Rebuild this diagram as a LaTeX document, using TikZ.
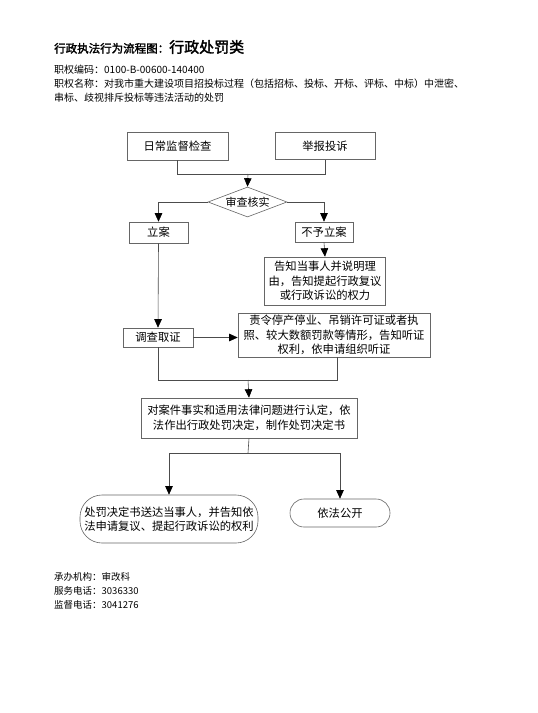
\documentclass[tikz,border=0pt]{standalone}
\usepackage{fontspec}
\setmainfont{Noto Sans CJK SC}[AutoFakeBold=2]
\usetikzlibrary{shapes.geometric}
\usetikzlibrary{arrows.meta,calc}
\begin{document}
\begin{tikzpicture}[x=1pt,y=-1pt,
  box/.style={draw=black!60, line width=0.6pt, align=center, inner sep=1pt,
    font=\fontsize{11.3}{14.5}\selectfont},
  roundbox/.style={box, rounded corners=#1},
  check/.style={draw=black!60, line width=0.6pt, diamond, aspect=2.6, inner sep=0pt,
    minimum width=79pt, minimum height=30pt, font=\fontsize{11}{14}\selectfont},
  link/.style={draw=black!70, line width=0.6pt},
  flow/.style={link, -{Triangle[width=7.5pt,length=8.5pt,color=black]}},
  info/.style={anchor=west, inner sep=0pt, font=\fontsize{10}{14}\selectfont}]
  \useasboundingbox[fill=white] (0,0) rectangle (538,713);

  % Draw the heading lines
  \node[info] (title) at (54,47) {\bfseries\fontsize{11.5}{14}\selectfont 行政执法行为流程图：\fontsize{15}{18}\selectfont 行政处罚类};
  \node[info] (code) at (54,70) {职权编码：0100-B-00600-140400};
  \node[info] (name1) at (54,84) {职权名称：对我市重大建设项目招投标过程（包括招标、投标、开标、评标、中标）中泄密、};
  \node[info] (name2) at (54,98) {串标、歧视排斥投标等违法活动的处罚};

  % Draw the boxes of the flow
  \node[box, minimum width=101pt, minimum height=28pt] (jiancha) at (177.5,146) {日常监督检查};
  \node[box, minimum width=100pt, minimum height=27pt] (jubao) at (325,146) {举报投诉};
  \node[check] (shencha) at (247.5,202) {审查核实};
  \node[box, minimum width=59pt, minimum height=21pt] (lian) at (158.5,232.5) {立案};
  \node[box, minimum width=58pt, minimum height=20pt] (buyu) at (324,232) {不予立案};
  \node[box, minimum width=121pt, minimum height=48pt] (gaozhi) at (325,281)
    {告知当事人并说明理\\由，告知提起行政复议\\或行政诉讼的权力};
  \node[box, minimum width=70pt, minimum height=19pt] (diaocha) at (158,337.5) {调查取证};
  \node[box, minimum width=192pt, minimum height=44pt] (zeling) at (334,335)
    {责令停产停业、吊销许可证或者执\\照、较大数额罚款等情形，告知听证\\权利，依申请组织听证};
  \node[box, minimum width=216pt, minimum height=40pt] (rending) at (249,418)
    {对案件事实和适用法律问题进行认定，依\\法作出行政处罚决定，制作处罚决定书};
  \node[roundbox=22pt, minimum width=178pt, minimum height=48pt] (songda) at (169,519)
    {处罚决定书送达当事人，并告知依\\法申请复议、提起行政诉讼的权利};
  \node[roundbox=14pt, minimum width=100pt, minimum height=28pt] (gongkai) at (340,513) {依法公开};

  % Draw the joins of the connectors
  \coordinate (join1) at (248,174);
  \coordinate (join2) at (248,380);
  \coordinate (join3) at (248,453);
  \coordinate (zelingout) at ([xshift=3pt]zeling.south);

  % Draw the connectors
  \draw[link] (jiancha.south) |- (jubao.south |- join1) -- (jubao.south);
  \draw[flow] (join1) -- (shencha.north);
  \draw[flow] (shencha.west) -| (lian.north);
  \draw[flow] (shencha.east) -| (buyu.north);
  \draw[flow] (buyu.south) -- (gaozhi.north);
  \draw[flow] (lian.south) -- (diaocha.north);
  \draw[flow] (diaocha.east) -- (zeling.west |- diaocha.east);
  \draw[link] (diaocha.south) |- (zelingout |- join2) -- (zelingout);
  \draw[flow] (join2) -- (rending.north);
  \draw[link] (rending.south) -- (join3);
  \draw[flow] (join3) -| (songda.north);
  \draw[flow] (join3) -| (gongkai.north);

  % Add the office lines at the bottom
  \node[info, font=\fontsize{9.5}{13}\selectfont] (office) at (54,577) {承办机构：审改科};
  \node[info, font=\fontsize{9.5}{13}\selectfont] (service) at (54,591) {服务电话：3036330};
  \node[info, font=\fontsize{9.5}{13}\selectfont] (monitor) at (54,605) {监督电话：3041276};
\end{tikzpicture}
\end{document}
